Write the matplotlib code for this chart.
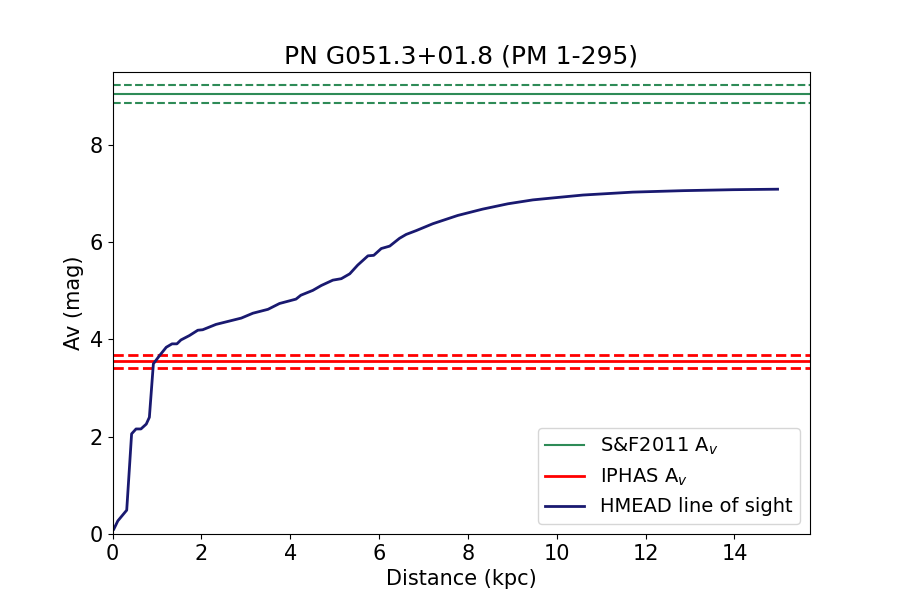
import matplotlib
matplotlib.use("Agg")
import matplotlib.pyplot as plt

# HMEAD line of sight (distance in kpc, Av in mag)
dist = [0.03, 0.12, 0.32, 0.43, 0.53, 0.64, 0.76, 0.83, 0.92, 1.06, 1.21,
        1.34, 1.45, 1.54, 1.73, 1.92, 2.03, 2.33, 2.90, 3.16, 3.50, 3.76,
        4.13, 4.24, 4.51, 4.70, 4.96, 5.15, 5.34, 5.52, 5.75, 5.88, 6.05,
        6.24, 6.46, 6.61, 6.84, 7.21, 7.77, 8.33, 8.90, 9.46, 10.02, 10.59,
        11.15, 11.71, 12.84, 13.97, 14.97]
av = [0.10, 0.27, 0.49, 2.06, 2.16, 2.16, 2.26, 2.40, 3.50, 3.67, 3.84,
      3.91, 3.91, 3.99, 4.08, 4.19, 4.20, 4.31, 4.44, 4.54, 4.62, 4.74,
      4.83, 4.91, 5.01, 5.11, 5.22, 5.25, 5.35, 5.53, 5.72, 5.73, 5.87,
      5.92, 6.08, 6.16, 6.24, 6.38, 6.55, 6.68, 6.79, 6.87, 6.92, 6.97,
      7.00, 7.03, 7.06, 7.08, 7.09]

sf_av, sf_err = 9.05, 0.18
iphas_av, iphas_err = 3.55, 0.13

fig, ax = plt.subplots(figsize=(9, 6), dpi=100)

ax.axhline(sf_av, color="seagreen", lw=1.5, label=r"S&F2011 A$_v$")
ax.axhline(sf_av + sf_err, color="seagreen", lw=1.5, ls="--")
ax.axhline(sf_av - sf_err, color="seagreen", lw=1.5, ls="--")

ax.axhline(iphas_av, color="red", lw=2, label=r"IPHAS A$_v$")
ax.axhline(iphas_av + iphas_err, color="red", lw=2, ls="--")
ax.axhline(iphas_av - iphas_err, color="red", lw=2, ls="--")

ax.plot(dist, av, color="midnightblue", lw=2, label="HMEAD line of sight")

ax.set_xlim(0, 15.7)
ax.set_ylim(0, 9.5)
ax.set_xticks(range(0, 15, 2))
ax.set_title("PN G051.3+01.8 (PM 1-295)", fontsize=18)
ax.set_xlabel("Distance (kpc)", fontsize=15)
ax.set_ylabel("Av (mag)", fontsize=15)
ax.tick_params(labelsize=15)
ax.legend(loc="lower right", fontsize=14)

fig.savefig("out.png")
